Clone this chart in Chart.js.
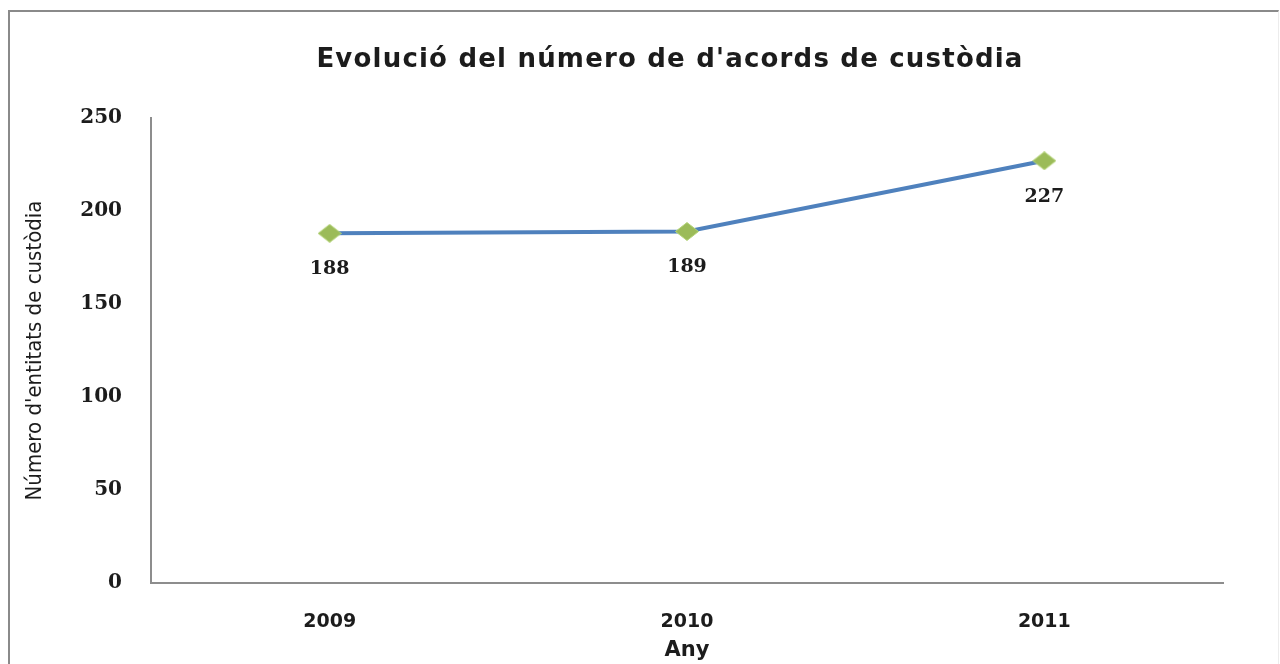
<!DOCTYPE html>
<html>
<head>
<meta charset="utf-8">
<script src="https://cdn.jsdelivr.net/npm/chart.js@4.4.1/dist/chart.umd.min.js"></script>
<style>
  html, body { margin: 0; padding: 0; background: #fff; overflow: hidden; }
  #frame {
    position: absolute; left: 8px; top: 10px; width: 1268px; height: 700px;
    border-left: 2px solid #8a8a8a; border-top: 2px solid #8a8a8a; border-right: 1px solid #ececec;
  }
  #wrap { position: absolute; left: 0; top: 0; width: 1280px; height: 664px; }
</style>
</head>
<body>
<div id="frame"></div>
<div id="wrap"><canvas id="chart" width="1280" height="664"></canvas></div>
<script>
const YEARS = ['2009', '2010', '2011'];
const AGREEMENTS = [188, 189, 227];
const Y_TICKS = [0, 50, 100, 150, 200, 250];

const TITLE = "Evolució del número de d'acords de custòdia";
const Y_TITLE = "Número d'entitats de custòdia";
const X_TITLE = 'Any';

const TEXT_COLOR = '#1c1c1c';
const AXIS_COLOR = '#8d8d8d';

// green diamond, a bit wider than tall like the original
function makeDiamond(w, h) {
  const c = document.createElement('canvas');
  c.width = w;
  c.height = h;
  const ctx = c.getContext('2d');
  ctx.beginPath();
  ctx.moveTo(w / 2, 0.5);
  ctx.lineTo(w - 0.5, h / 2);
  ctx.lineTo(w / 2, h - 0.5);
  ctx.lineTo(0.5, h / 2);
  ctx.closePath();
  ctx.fillStyle = '#9bbb59';
  ctx.fill();
  ctx.strokeStyle = '#b5d47a';
  ctx.lineWidth = 1;
  ctx.stroke();
  return c;
}

// the original title is centred on the whole frame, not on the plot
const frameTitle = {
  id: 'frameTitle',
  afterDraw(chart) {
    const ctx = chart.ctx;
    ctx.save();
    ctx.font = 'bold 26px "DejaVu Sans", sans-serif';
    if ('letterSpacing' in ctx) ctx.letterSpacing = '1.2px';
    ctx.fillStyle = TEXT_COLOR;
    ctx.textAlign = 'center';
    ctx.textBaseline = 'middle';
    ctx.fillText(TITLE, 670, 60);
    ctx.restore();
  }
};

// value labels under each point
const valueLabels = {
  id: 'valueLabels',
  afterDatasetsDraw(chart) {
    const ctx = chart.ctx;
    const meta = chart.getDatasetMeta(0);
    const values = chart.data.datasets[0].data;
    ctx.save();
    ctx.font = 'bold 19px "DejaVu Serif", serif';
    ctx.fillStyle = TEXT_COLOR;
    ctx.textAlign = 'center';
    ctx.textBaseline = 'middle';
    meta.data.forEach((pt, i) => {
      ctx.fillText(String(values[i]), pt.x, pt.y + 36);
    });
    ctx.restore();
  }
};

const diamond = makeDiamond(24, 19);

new Chart(document.getElementById('chart'), {
  type: 'line',
  data: {
    labels: YEARS,
    datasets: [{
      data: AGREEMENTS,
      borderColor: '#4f81bd',
      borderWidth: 4,
      pointStyle: diamond,
      pointRadius: 10,
      tension: 0,
      fill: false
    }]
  },
  options: {
    responsive: false,
    animation: false,
    layout: { padding: { left: 0, right: 57, top: 118, bottom: 0 } },
    plugins: {
      legend: { display: false },
      tooltip: { enabled: false },
      title: { display: false }
    },
    scales: {
      x: {
        type: 'category',
        offset: true,
        grid: { display: false, drawTicks: false },
        border: { display: true, color: AXIS_COLOR, width: 2 },
        ticks: {
          color: TEXT_COLOR,
          padding: 28,
          font: { family: '"DejaVu Sans", sans-serif', size: 19, weight: 'bold' }
        },
        title: {
          display: true,
          text: X_TITLE,
          color: TEXT_COLOR,
          font: { family: '"DejaVu Sans", sans-serif', size: 21, weight: 'bold', lineHeight: 1.2 },
          padding: { top: 0, bottom: 1 }
        },
        afterFit(scale) { scale.height = 81; }
      },
      y: {
        min: 0,
        max: 250,
        grid: { display: false, drawTicks: false },
        border: { display: true, color: AXIS_COLOR, width: 2 },
        afterBuildTicks(scale) { scale.ticks = Y_TICKS.map(v => ({ value: v })); },
        ticks: {
          color: TEXT_COLOR,
          padding: 29,
          font: { family: '"DejaVu Serif", serif', size: 20, weight: 'bold' }
        },
        title: {
          display: true,
          text: Y_TITLE,
          color: TEXT_COLOR,
          font: { family: '"Liberation Sans Narrow", "DejaVu Sans Condensed", sans-serif', size: 22, lineHeight: 1.2 },
          padding: { top: 22, bottom: 0 }
        },
        afterFit(scale) { scale.width = 151; }
      }
    }
  },
  plugins: [valueLabels, frameTitle]
});
</script>
</body>
</html>
